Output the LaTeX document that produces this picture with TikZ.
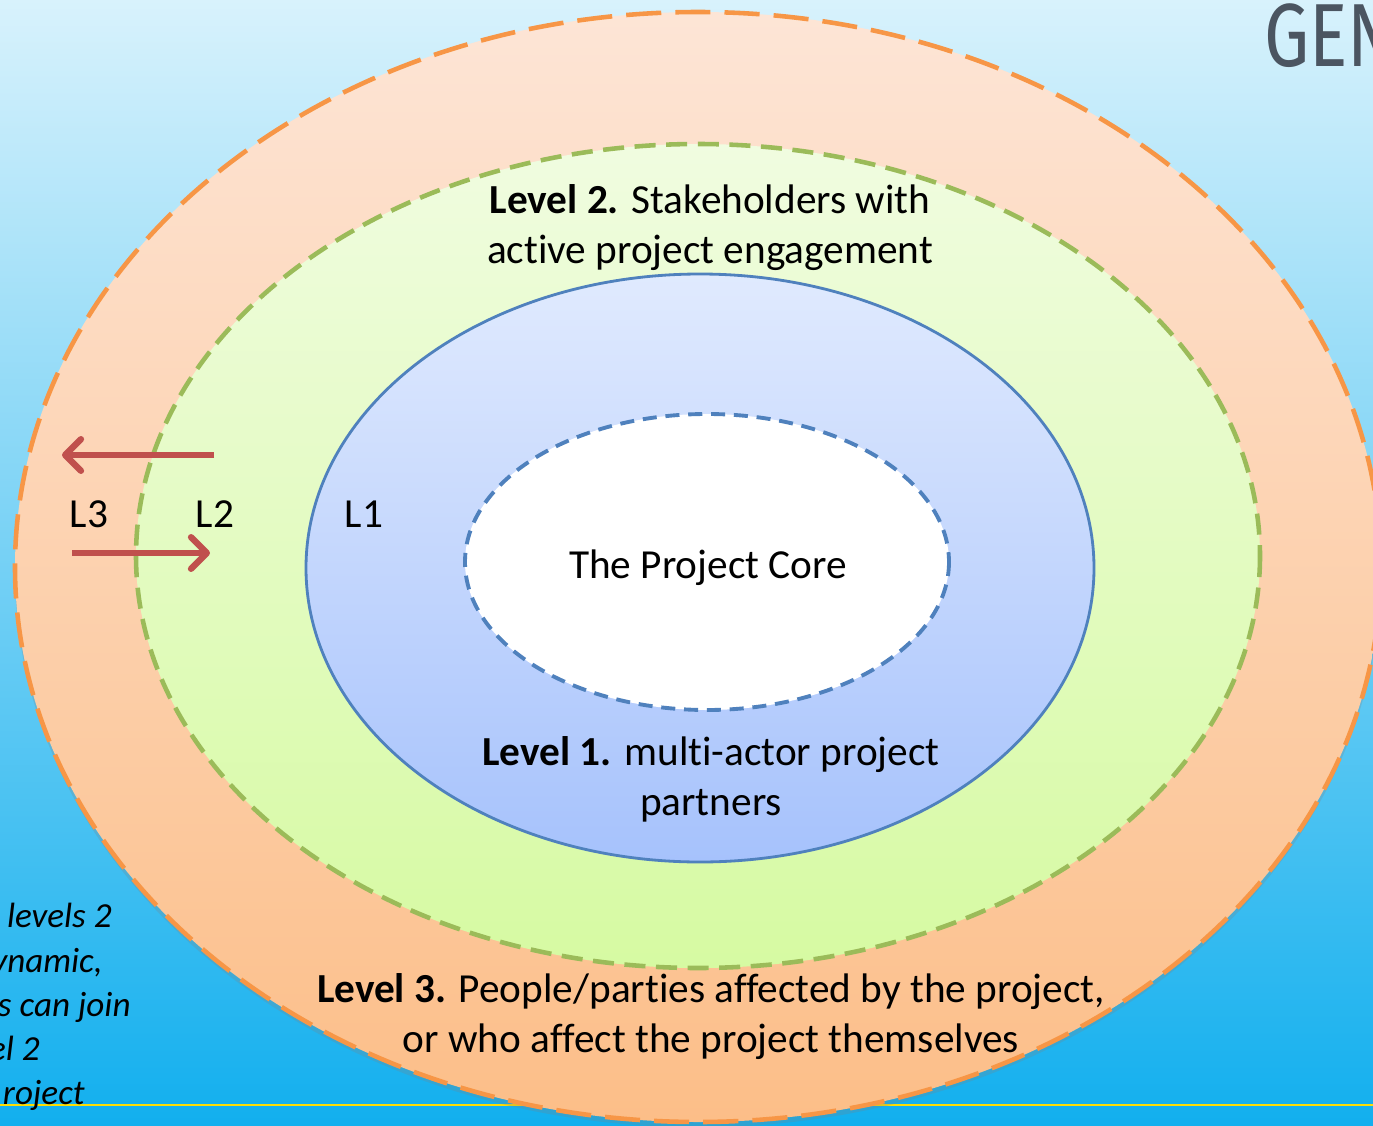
\documentclass[tikz,border=0pt]{standalone}
\usepackage{fontspec}
\setmainfont{Carlito}[Ligatures=NoCommon]
\newfontfamily\genfont{Fira Sans}
\usetikzlibrary{arrows.meta,shadows,positioning}
\definecolor{skytop}{HTML}{D8F2FC}
\definecolor{skybot}{HTML}{12AFEE}
\definecolor{orline}{HTML}{F79646}
\definecolor{ortop}{HTML}{FDE5D6}
\definecolor{orbot}{HTML}{FCBE88}
\definecolor{grline}{HTML}{9BBB59}
\definecolor{grtop}{HTML}{F0FCE0}
\definecolor{grbot}{HTML}{D6FAA2}
\definecolor{blline}{HTML}{4F81BD}
\definecolor{bltop}{HTML}{E0EAFE}
\definecolor{blbot}{HTML}{A6C2FC}
\definecolor{redarrow}{HTML}{C0504D}
\definecolor{gengrey}{HTML}{4B5561}

\begin{document}
\begin{tikzpicture}[x=0.02cm,y=-0.02cm]

\tikzset{ring/.style={line width=2.6pt},
lbl/.style={font=\fontsize{23.5}{28.5}\selectfont,align=center,inner sep=0pt},
notetext/.style={font=\fontsize{20}{24}\selectfont\itshape,anchor=base east,inner sep=0pt},
movearrow/.style={line width=3.6pt,color=redarrow,-{Straight Barb[length=9pt,width=18pt,round]}}}

\clip (0,0) rectangle (1373,1126);

% Background
\fill[top color=skytop,bottom color=skybot] (0,0) rectangle (1373,1126);
\draw[color=yellow!80!orange,line width=1.2pt] (0,1105) -- (1373,1105);
\node[font=\fontsize{51}{51}\selectfont\genfont,text=gengrey,anchor=north west,inner sep=0pt,xscale=0.8,transform shape] (gen) at (1264,3) {GEN};

% Note (partly cut off)
\foreach \t/\xe/\yb [count=\i] in {levels 2/112/927, {ynamic,}/103/972, s can join/131/1016, el 2/40/1060, roject/85/1104}
  \node[notetext] (note\i) at (\xe,\yb) {\t};

% Rings
\draw[ring,color=orline,dash pattern=on 20pt off 8pt,top color=ortop,bottom color=orbot,drop shadow={opacity=0.25,shadow xshift=0pt,shadow yshift=-3pt}] (698,567) ellipse [x radius=683,y radius=555];
\draw[ring,color=grline,dash pattern=on 12pt off 6pt,top color=grtop,bottom color=grbot] (698,556) ellipse [x radius=562,y radius=412];
\draw[line width=1.6pt,color=blline,top color=bltop,bottom color=blbot] (700,568) ellipse [x radius=394,y radius=294];
\draw[line width=2.2pt,color=blline,dash pattern=on 8pt off 5pt,fill=white] (707,562) ellipse [x radius=242,y radius=148];

% Labels
\node[lbl] (lvl2) at (710,228) {\textbf{Level 2.} Stakeholders with\\active project engagement};
\node[lbl] (core) at (708,568) {The Project Core};
\node[lbl] (lvl1) at (711,779) {\textbf{Level 1.} multi-actor project\\partners};
\node[lbl] (lvl3) at (711,1017) {\textbf{Level 3.} People/parties affected by the project,\\or who affect the project themselves};
\node[lbl] (l1) at (364,514) {L1};
\node[lbl] (l2) at (215,514) {L2};
\node[lbl] (l3) at (89,514) {L3};

% Moving between levels
\coordinate (outfrom) at (214,455); \coordinate (outto) at (62,455);
\coordinate (infrom) at (72,553); \coordinate (into) at (210,553);
\draw[movearrow] (outfrom) -- (outto);
\draw[movearrow] (infrom) -- (into);

\end{tikzpicture}
\end{document}
